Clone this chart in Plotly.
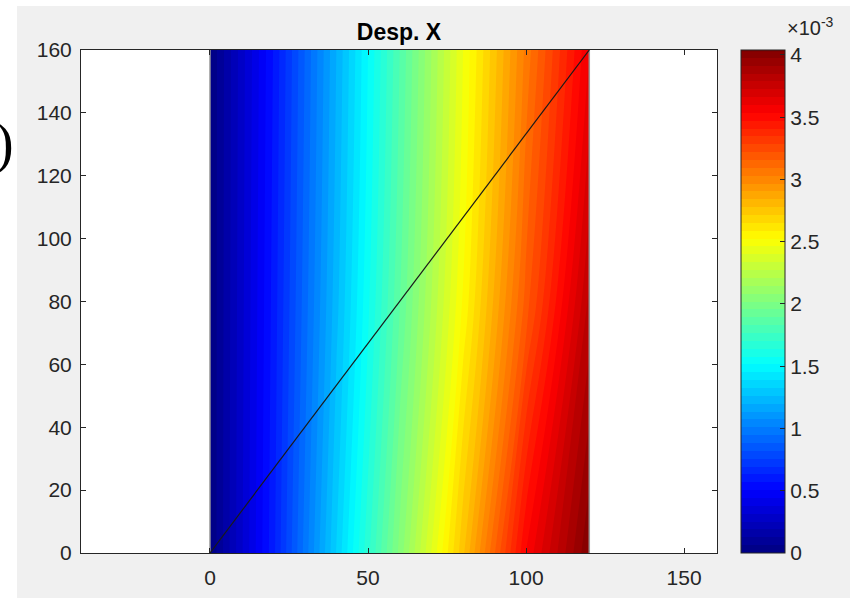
import plotly.graph_objects as go

# ---- data ----
x_nodes = [0, 20, 40, 60, 80, 100, 120]          # horizontal position
y_nodes = [0, 80, 160]                            # vertical position
# Desp. X values in units of 1e-3, one row per y node
desp_y0 = [0.0, 0.61, 1.33, 2.04, 2.76, 3.54, 4.04]
desp_y80 = [0.0, 0.59, 1.24, 1.89, 2.53, 3.18, 3.80]
desp_y160 = [0.0, 0.57, 1.20, 1.83, 2.46, 3.05, 3.60]
cmin, cmax = 0.0, 4.04
n_levels = 64
cb_ticks = [0, 0.5, 1, 1.5, 2, 2.5, 3, 3.5, 4]
diag_x = [0, 120]
diag_y = [0, 160]
x_ticks = [0, 50, 100, 150]
y_ticks = [0, 20, 40, 60, 80, 100, 120, 140, 160]

# ---- layout geometry (pixels) ----
W, H = 850, 598
L, R, T, B = 81, 133, 50, 45
PW, PH = W - L - R, H - T - B

def px(xp):
    return (xp - L) / PW

def py(yp):
    return (H - B - yp) / PH

jet = [[0.0, "#000080"], [0.125, "#0000ff"], [0.375, "#00ffff"],
       [0.625, "#ffff00"], [0.875, "#ff0000"], [1.0, "#800000"]]

AX = "#262626"
FONT = "Liberation Sans, Arial, Helvetica, sans-serif"

fig = go.Figure()

fig.add_trace(go.Contour(
    x=x_nodes, y=y_nodes, z=[desp_y0, desp_y80, desp_y160],
    colorscale=jet, zmin=cmin, zmax=cmax,
    autocontour=False,
    contours=dict(start=cmin, end=cmax, size=(cmax - cmin) / n_levels,
                  coloring="fill", showlines=False),
    line=dict(width=0),
    hoverinfo="skip",
    colorbar=dict(
        x=px(741), xanchor="left", xpad=0, ypad=0,
        y=0.5, yanchor="middle", len=1, lenmode="fraction",
        thickness=44, thicknessmode="pixels",
        outlinecolor=AX, outlinewidth=1,
        tickmode="array", tickvals=cb_ticks,
        ticks="inside", ticklen=5, tickcolor=AX,
        tickfont=dict(family=FONT, size=21, color=AX),
    ),
))

# domain outline (left and right edges)
fig.add_trace(go.Scatter(
    x=[x_nodes[0], x_nodes[0], None, x_nodes[-1], x_nodes[-1]],
    y=[y_nodes[0], y_nodes[-1], None, y_nodes[0], y_nodes[-1]],
    mode="lines", line=dict(color="#9a9a9a", width=1.5),
    hoverinfo="skip", showlegend=False,
))

# diagonal line
fig.add_trace(go.Scatter(
    x=diag_x, y=diag_y, mode="lines",
    line=dict(color="#1a1a1a", width=1.2),
    hoverinfo="skip", showlegend=False,
))

axis_common = dict(
    showgrid=False, zeroline=False, showline=True, linecolor=AX, linewidth=1,
    mirror="allticks", ticks="inside", ticklen=5, tickcolor=AX, automargin=False,
    tickfont=dict(family=FONT, size=21, color=AX),
)

fig.update_xaxes(range=[-40.8, 160.4], tickvals=x_ticks, ticklabelstandoff=6, **axis_common)
fig.update_yaxes(range=[0, 160], tickvals=y_ticks, ticklabelstandoff=4, **axis_common)

fig.update_layout(
    width=W, height=H, autosize=False,
    margin=dict(l=L, r=R, t=T, b=B, pad=0, autoexpand=False),
    paper_bgcolor="#f0f0f0", plot_bgcolor="#ffffff",
    showlegend=False,
    title=dict(text="<b>Desp. X</b>", x=0.5 * (L + W - R) / W, xanchor="center",
               xref="container", y=1 - 32 / H, yanchor="middle", yref="container",
               font=dict(family=FONT, size=23, color="#000000")),
    shapes=[
        dict(type="rect", xref="paper", yref="paper", x0=px(-10), x1=px(17),
             y0=py(H + 10), y1=py(-10), fillcolor="#ffffff", line=dict(width=0), layer="below"),
        dict(type="rect", xref="paper", yref="paper", x0=px(-10), x1=px(W + 10),
             y0=py(6), y1=py(-10), fillcolor="#ffffff", line=dict(width=0), layer="below"),
    ],
    annotations=[
        dict(text="\u00d710<sup>-3</sup>", xref="paper", yref="paper",
             x=px(785), xanchor="left", y=py(41), yanchor="bottom", showarrow=False,
             font=dict(family=FONT, size=20, color=AX)),
        dict(text=")", xref="paper", yref="paper",
             x=px(16), xanchor="right", y=py(143), yanchor="middle", showarrow=False,
             font=dict(family="Liberation Serif, Times New Roman, serif", size=56, color="#000000")),
    ],
)

fig.write_html("out.html", config={"displayModeBar": False, "responsive": False},
               post_script="document.body.style.margin='0';")
